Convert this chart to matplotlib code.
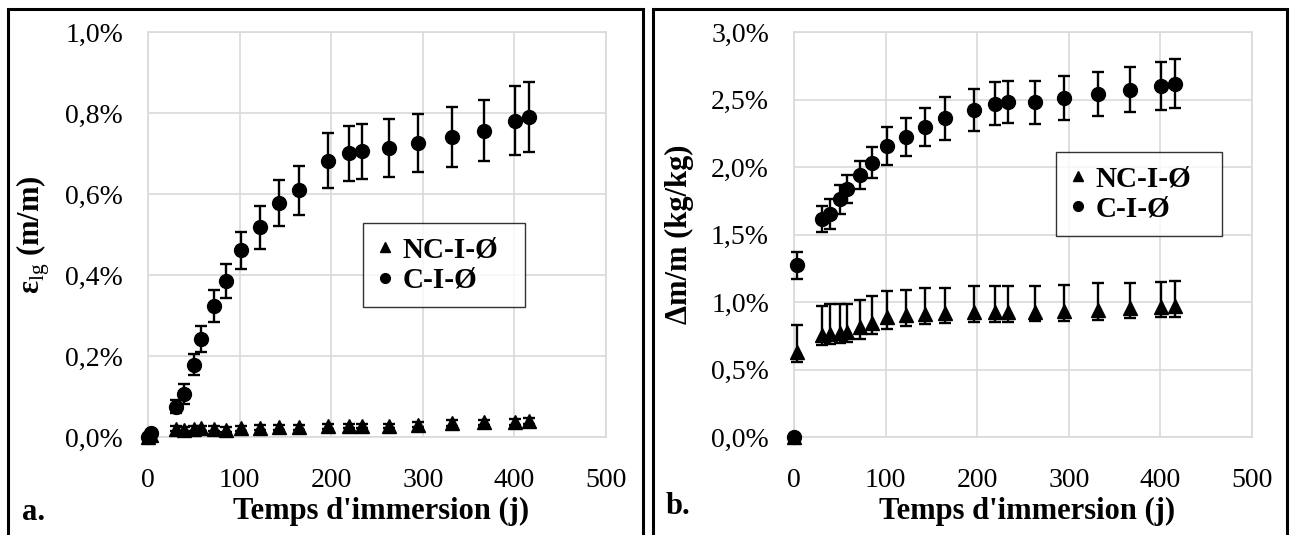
import numpy as np
import matplotlib.pyplot as plt
from matplotlib.lines import Line2D
from matplotlib.patches import Rectangle
from matplotlib.ticker import FuncFormatter, MultipleLocator

plt.rcParams['font.family'] = ['Liberation Serif', 'DejaVu Serif']
plt.rcParams['mathtext.fontset'] = 'custom'
plt.rcParams['mathtext.rm'] = 'Liberation Serif'
plt.rcParams['mathtext.bf'] = 'Liberation Serif:bold'

# immersion time (days)
days = [0, 3, 31, 39, 50, 58, 72, 85, 101, 122, 143, 165, 197, 219, 234, 263, 295, 332, 367, 401, 416]

# panel a: longitudinal strain (%)
eps_nc = [0, 0.005, 0.020, 0.018, 0.020, 0.022, 0.020, 0.018, 0.021, 0.023, 0.024, 0.024,
          0.026, 0.027, 0.027, 0.027, 0.030, 0.034, 0.036, 0.037, 0.040]
eps_nc_err = [0, 0.004, 0.006, 0.006, 0.006, 0.006, 0.006, 0.006, 0.006, 0.006, 0.006, 0.006,
              0.006, 0.006, 0.006, 0.006, 0.006, 0.007, 0.007, 0.007, 0.007]
eps_c = [0, 0.010, 0.075, 0.106, 0.179, 0.241, 0.323, 0.385, 0.461, 0.518, 0.578, 0.609,
         0.682, 0.701, 0.705, 0.713, 0.726, 0.741, 0.756, 0.781, 0.790]
eps_c_err = [0, 0.005, 0.016, 0.024, 0.026, 0.032, 0.040, 0.041, 0.046, 0.053, 0.057, 0.060,
             0.068, 0.068, 0.069, 0.071, 0.072, 0.074, 0.075, 0.085, 0.086]

# panel b: mass uptake (%)
dm_nc = [0, 0.626, 0.758, 0.763, 0.770, 0.778, 0.814, 0.848, 0.886, 0.903, 0.908, 0.915,
         0.928, 0.928, 0.928, 0.928, 0.935, 0.944, 0.958, 0.966, 0.972]
dm_nc_lo = [0, 0.553, 0.679, 0.686, 0.693, 0.703, 0.727, 0.763, 0.800, 0.824, 0.838, 0.848,
            0.855, 0.855, 0.855, 0.857, 0.860, 0.867, 0.880, 0.888, 0.890]
dm_nc_hi = [0, 0.831, 0.969, 0.983, 0.983, 0.983, 1.012, 1.041, 1.080, 1.089, 1.101, 1.101,
            1.116, 1.116, 1.116, 1.116, 1.126, 1.138, 1.140, 1.145, 1.152]
dm_c = [0, 1.272, 1.617, 1.654, 1.760, 1.837, 1.941, 2.032, 2.156, 2.222, 2.296, 2.360,
        2.425, 2.469, 2.481, 2.479, 2.511, 2.543, 2.573, 2.602, 2.617]
dm_c_err = [0, 0.10, 0.096, 0.11, 0.11, 0.105, 0.106, 0.115, 0.138, 0.14, 0.143, 0.158,
            0.155, 0.16, 0.157, 0.157, 0.16, 0.163, 0.167, 0.177, 0.18]

labels = ['NC-I-Ø', 'C-I-Ø']

fig = plt.figure(figsize=(12.9, 5.35), dpi=100)
ax_a = fig.add_axes([148 / 1290, 1 - 437 / 535, 458 / 1290, 405 / 535])
ax_b = fig.add_axes([794 / 1290, 1 - 437 / 535, 458 / 1290, 405 / 535])

eb = dict(ls='none', color='black', ecolor='black', elinewidth=1.7, capsize=4.5,
          capthick=1.7, markersize=10, clip_on=False, zorder=3)

ax_a.errorbar(days, eps_nc, yerr=eps_nc_err, fmt='^', **eb)
ax_a.errorbar(days, eps_c, yerr=eps_c_err, fmt='o', **eb)

nc_err = [np.array(dm_nc) - np.array(dm_nc_lo), np.array(dm_nc_hi) - np.array(dm_nc)]
ax_b.errorbar(days, dm_nc, yerr=nc_err, fmt='^', **eb)
ax_b.errorbar(days, dm_c, yerr=dm_c_err, fmt='o', **eb)

pct = FuncFormatter(lambda v, p: f'{v:.1f}%'.replace('.', ','))

for ax, ymax, step in [(ax_a, 1.0, 0.2), (ax_b, 3.0, 0.5)]:
    ax.set_xlim(0, 500)
    ax.set_ylim(0, ymax)
    ax.xaxis.set_major_locator(MultipleLocator(100))
    ax.yaxis.set_major_locator(MultipleLocator(step))
    ax.yaxis.set_major_formatter(pct)
    ax.grid(True, color='#d9d9d9', lw=1.2)
    ax.set_axisbelow(True)
    for s in ax.spines.values():
        s.set_color('#d9d9d9')
        s.set_linewidth(1.2)
    ax.tick_params(axis='y', length=0, labelsize=20, pad=18)
    ax.tick_params(axis='x', length=0, labelsize=20, pad=22)
    ax.set_xlabel("Temps d'immersion (j)", fontsize=22, fontweight='bold', va='center')
    ax.xaxis.set_label_coords(0.508, -0.185)

ax_a.set_ylabel(r'$\mathbf{ε}_{\mathrm{lg}}$ (m/m)', fontsize=22, fontweight='bold', va='center')
ax_a.yaxis.set_label_coords(-0.251, 0.5)
ax_b.set_ylabel('Δm/m (kg/kg)', fontsize=22, fontweight='bold', va='center')
ax_b.yaxis.set_label_coords(-0.249, 0.5)

handles = [Line2D([], [], ls='none', marker='^', color='black', markersize=7),
           Line2D([], [], ls='none', marker='o', color='black', markersize=7)]
for ax, box in [(ax_a, (0.469, 0.328, 0.354, 0.2)), (ax_b, (0.572, 0.509, 0.362, 0.195))]:
    leg = ax.legend(handles, labels, loc='upper left', bbox_to_anchor=box, mode='expand',
                    prop={'weight': 'bold', 'size': 21}, frameon=True, fancybox=False,
                    handlelength=0.6, handletextpad=0.3, borderpad=0.45,
                    labelspacing=0.12, borderaxespad=0)
    leg.get_frame().set_edgecolor('black')
    leg.get_frame().set_linewidth(1.0)

fig.text(22 / 1290, 1 - 512 / 535, 'a.', fontsize=22, fontweight='bold', va='center')
fig.text(666 / 1290, 1 - 507 / 535, 'b.', fontsize=22, fontweight='bold', va='center')

# panel frames
fig.add_artist(Rectangle((8 / 1290, -0.02), 635 / 1290, 1.003, transform=fig.transFigure,
                         fill=False, edgecolor='black', lw=2.2))
fig.add_artist(Rectangle((653 / 1290, -0.02), 634 / 1290, 1.003, transform=fig.transFigure,
                         fill=False, edgecolor='black', lw=2.2))

fig.savefig('out.png', dpi=100)
